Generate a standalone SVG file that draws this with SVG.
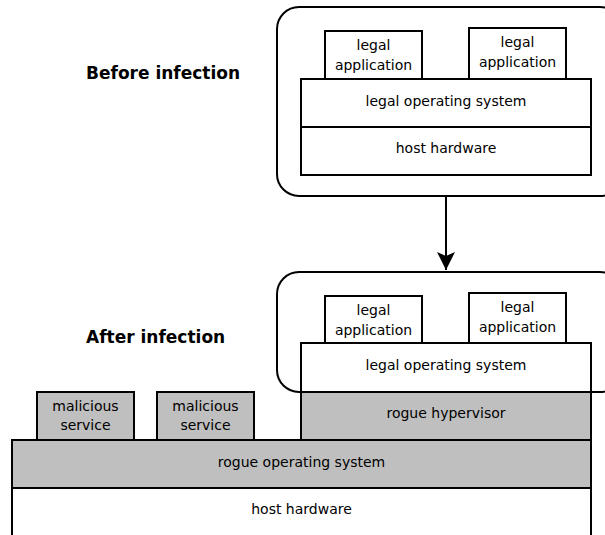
<svg xmlns="http://www.w3.org/2000/svg" width="605" height="535" viewBox="0 0 605 535">
<defs>
<style>
.b{fill:#fff;stroke:#000;stroke-width:2}
.g{fill:#bfbfbf;stroke:#000;stroke-width:2}
.f{fill:none;stroke:#000;stroke-width:2}
text{font-family:"DejaVu Sans",sans-serif;font-size:14px;text-anchor:middle;fill:#000}
.h{font-weight:bold;font-size:17px;text-anchor:start}
</style>
<marker id="ah" markerWidth="20" markerHeight="20" refX="18" refY="9" orient="auto" markerUnits="userSpaceOnUse" viewBox="0 0 20 18">
<path d="M0,0 L18,9 L0,18 L4,9 z" fill="#000"/>
</marker>
</defs>
<rect width="605" height="535" fill="#fff"/>
<text class="h" x="86" y="79">Before infection</text>
<text class="h" x="86" y="343">After infection</text>
<g id="before">
<rect class="f" x="277" y="7" width="345" height="189" rx="22"/>
<g id="b-app1"><rect class="b" x="325" y="31" width="97" height="48"/><text x="373.5" y="50">legal</text><text x="373.5" y="70">application</text></g>
<g id="b-app2"><rect class="b" x="469" y="28" width="97" height="51"/><text x="517.5" y="47">legal</text><text x="517.5" y="67">application</text></g>
<g id="b-os"><rect class="b" x="301" y="79" width="290" height="48"/><text x="446" y="106">legal operating system</text></g>
<g id="b-hw"><rect class="b" x="301" y="127" width="290" height="48"/><text x="446" y="153">host hardware</text></g>
</g>
<g id="connectors">
<line x1="446" y1="197" x2="446" y2="270" stroke="#000" stroke-width="2" marker-end="url(#ah)"/>
</g>
<g id="after">
<g id="a-hw"><rect class="b" x="12" y="488" width="579" height="60"/><text x="301.5" y="514">host hardware</text></g>
<g id="a-ros"><rect class="g" x="12" y="440" width="579" height="48"/><text x="301.5" y="467">rogue operating system</text></g>
<g id="a-hyp"><rect class="g" x="301" y="392" width="290" height="48"/><text x="446" y="418">rogue hypervisor</text></g>
<g id="a-mal1"><rect class="g" x="37" y="392" width="97" height="48"/><text x="85.5" y="411">malicious</text><text x="85.5" y="430">service</text></g>
<g id="a-mal2"><rect class="g" x="157" y="392" width="97" height="48"/><text x="205.5" y="411">malicious</text><text x="205.5" y="430">service</text></g>
<g id="a-os"><rect class="b" x="301" y="343" width="290" height="49"/><text x="446" y="370">legal operating system</text></g>
<g id="a-app1"><rect class="b" x="325" y="296" width="97" height="47"/><text x="373.5" y="315">legal</text><text x="373.5" y="335">application</text></g>
<g id="a-app2"><rect class="b" x="469" y="293" width="97" height="50"/><text x="517.5" y="312">legal</text><text x="517.5" y="332">application</text></g>
<rect class="f" x="277" y="272" width="345" height="120" rx="22"/>
</g>
</svg>
